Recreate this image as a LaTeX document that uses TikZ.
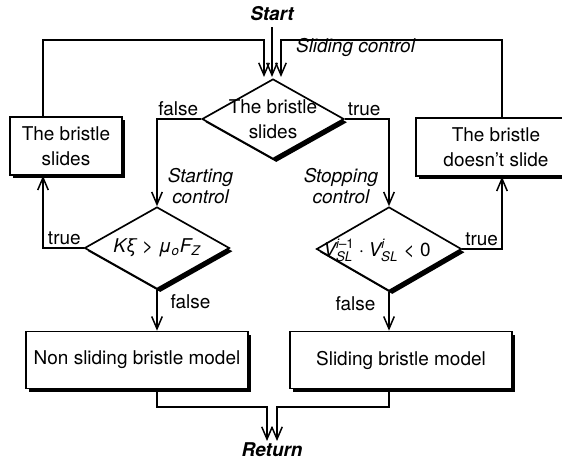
\documentclass[tikz,border=0pt]{standalone}
\usepackage{amsmath}
\usepackage{fontspec}
\setmainfont{TeX Gyre Heros}
\usetikzlibrary{shapes.geometric,arrows.meta,positioning,shadows}

\begin{document}
\begin{tikzpicture}[
    x=0.02cm, y=-0.02cm,
    font=\fontsize{10.8}{14.2}\selectfont,
    shade box/.style={drop shadow={opacity=1, fill=black, shadow xshift=0.065cm, shadow yshift=-0.065cm}},
    block/.style={rectangle, draw, line width=0.95pt, fill=white, align=center, shade box},
    decision/.style={diamond, draw, line width=0.95pt, fill=white, inner sep=0pt, shade box},
    arrow/.style={-{Straight Barb[length=7pt,width=6pt]}, line width=0.85pt},
    ctrl/.style={font=\fontsize{10.8}{12}\selectfont\itshape, align=center, inner sep=1pt},
    answer/.style={inner sep=1.5pt},
    term/.style={font=\fontsize{10.8}{12}\selectfont\bfseries\itshape}
]
    \useasboundingbox (0,0) rectangle (562,459);

    % Entry point and the three inputs of the sliding test
    \node[term] (start) at (272,14) {Start};
    \coordinate (loopL) at (43,40);
    \coordinate (loopR) at (502,40);
    \coordinate (inl) at (264,77);
    \coordinate (inm) at (272,77);
    \coordinate (inr) at (281,77);

    % Decisions
    \node[decision, minimum width=2.84cm, minimum height=1.6cm] (slide) at (273,119) {};
    \node[align=center] (slidetxt) at (slide) {The bristle\\slides};
    \node[decision, minimum width=2.9cm, minimum height=1.64cm] (startctl) at (157,248) {};
    \node (kxi) at (startctl) {{\itshape Kξ} > {\itshape μ}\textsubscript{\itshape o}{\itshape F}\textsubscript{\itshape Z}};
    \node[decision, minimum width=2.9cm, minimum height=1.68cm] (stopctl) at (389,249) {};
    \node (vsl) at (377,250) {$\textit{V}^{\textit{i}\text{–1}}_{\textit{SL}}\cdot\textit{V}^{\textit{i}}_{\textit{SL}}\text{ < 0}$};

    % State switches
    \node[block, minimum width=2.24cm, minimum height=1.16cm] (slidesbox) at (66,146) {The bristle\\slides};
    \node[block, minimum width=3.2cm, minimum height=1.16cm] (stuckbox) at (496,147) {The bristle\\doesn't slide};

    % Bristle models
    \node[block, minimum width=4.44cm, minimum height=1.14cm] (nslbox) at (137,360) {Non sliding bristle model};
    \node[block, minimum width=4.44cm, minimum height=1.14cm] (slbox) at (401,360) {Sliding bristle model};

    % Exit
    \coordinate (merge) at (272,407);
    \coordinate (retL) at (267,441);
    \coordinate (retR) at (277,441);
    \node[term] (return) at (272,450) {Return};

    % Arrows
    \draw[arrow] (start) -- (inm);
    \draw[arrow] (slidesbox.north -| loopL) -- (loopL) -- (loopL -| inl) -- (inl);
    \draw[arrow] (stuckbox.north -| loopR) -- (loopR) -- (loopR -| inr) -- (inr);
    \draw[arrow] (slide.west) -| (startctl.north);
    \draw[arrow] (slide.east) -| (stopctl.north);
    \draw[arrow] (startctl.west) -| (slidesbox.south -| loopL);
    \draw[arrow] (stopctl.east) -| (stuckbox.south -| loopR);
    \draw[arrow] (startctl.south) -- (startctl.south |- nslbox.north);
    \draw[arrow] (stopctl.south) -- (stopctl.south |- slbox.north);
    \draw[arrow] (startctl.south |- nslbox.south) |- (merge -| retL) -- (retL);
    \draw[arrow] (stopctl.south |- slbox.south) |- (merge -| retR) -- (retR);

    % Labels
    \node[ctrl, anchor=west] (slidelbl) at (294,47) {Sliding control};
    \node[answer, anchor=south east] (f1) at (slide.west) {false};
    \node[answer, anchor=south west] (t1) at (slide.east) {true};
    \node[ctrl, above right=0pt and 5pt of startctl.north] (startlbl) {Starting\\control};
    \node[ctrl, above left=0pt and 5pt of stopctl.north] (stoplbl) {Stopping\\control};
    \node[answer, anchor=south east] (t2) at (startctl.west) {true};
    \node[answer, anchor=south west] (t3) at (stopctl.east) {true};
    \node[answer, below right=1pt and 6pt of startctl.south] (f2) {false};
    \node[answer, below left=1pt and 6pt of stopctl.south] (f3) {false};
\end{tikzpicture}
\end{document}
